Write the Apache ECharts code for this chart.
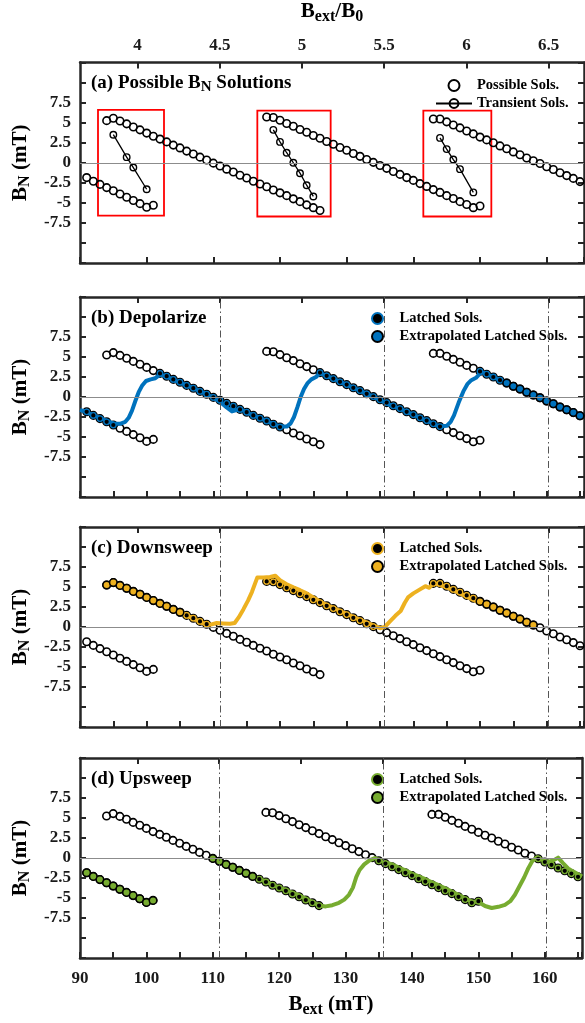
<!DOCTYPE html>
<html>
<head>
<meta charset="utf-8">
<script src="https://cdn.jsdelivr.net/npm/echarts@6/dist/echarts.min.js"></script>
<style>
  html, body { margin: 0; padding: 0; background: #fff; }
  #chart { width: 585px; height: 1023px; }
</style>
</head>
<body>
<div id="chart"></div>
<script>
var FONT = '"Liberation Serif", "Times New Roman", serif';

// B_ext/B_0 scale of the top axis
var B0 = 24.66;
var xMin = 90, xMax = 165.6;
var ratioTicks = [4, 4.5, 5, 5.5, 6, 6.5];
var dashRatios = [4.5, 5.5, 6.5];

// possible B_N solutions, one point per mT from branchStart
var branchStart = [91, 94, 118, 143];
var branch0 = [-1.85, -2.3, -2.7, -3.1, -3.5, -3.9, -4.3, -4.7, -5.1, -5.55, -5.3];
var branch1 = [5.25, 5.55, 5.2, 4.85, 4.45, 4.1, 3.7, 3.3, 2.95, 2.6, 2.2, 1.85, 1.45, 1.1, 0.7, 0.35,
  -0.05, -0.4, -0.8, -1.15, -1.55, -1.9, -2.3, -2.65, -3.0, -3.4, -3.75, -4.1, -4.5, -4.85, -5.25, -5.6, -5.95];
var branch2 = [5.7, 5.65, 5.3, 4.9, 4.55, 4.15, 3.8, 3.4, 3.05, 2.65, 2.3, 1.9, 1.55, 1.15, 0.8, 0.4,
  0.05, -0.35, -0.7, -1.1, -1.45, -1.85, -2.2, -2.6, -2.95, -3.35, -3.7, -4.1, -4.45, -4.85, -5.2, -5.6, -5.4];
var branch3 = [5.45, 5.45, 5.1, 4.7, 4.35, 3.95, 3.6, 3.2, 2.85, 2.5, 2.1, 1.75, 1.35, 1.0, 0.6, 0.25,
  -0.1, -0.5, -0.85, -1.25, -1.6, -1.95, -2.35];
var branches = [branch0, branch1, branch2, branch3];

// transient solutions inside the red boxes
var transient1 = [[95, 3.5], [97, 0.7], [98, -0.6], [100, -3.3]];
var transient2 = [[119, 4.1], [120, 2.6], [121, 1.25], [122, 0], [123, -1.3], [124, -2.8], [125, -4.2]];
var transient3 = [[144, 3.1], [145, 1.7], [146, 0.4], [147, -0.8], [149, -3.7]];

// red boxes [x1, x2, yLow, yHigh]
var boxes = [[92.7, 102.6, -6.6, 6.6], [116.6, 127.6, -6.7, 6.5], [141.5, 151.7, -6.7, 6.5]];

// which possible solutions are latched / extrapolated: [branch, fromX, toX]
var depolLatched = [[0, 91, 95], [1, 102, 120], [2, 126, 144], [3, 150, 153]];
var depolExtrap = [[3, 154, 165]];
var downLatched = [[1, 106, 109], [2, 118, 134], [3, 143, 149]];
var downExtrap = [[1, 94, 105], [3, 150, 158]];
var upLatched = [[1, 117, 126], [2, 135, 150], [3, 159, 165]];
var upExtrap = [[0, 91, 101], [1, 110, 116]];

// simulated B_N trajectories
var depolLine = [[90, -1.6], [91, -1.9], [92, -2.3], [93, -2.6], [94, -3.0], [95, -3.3], [96, -3.35], [96.8, -3.1],
  [97.3, -2.6], [97.8, -1.7], [98.3, -0.5], [98.8, 0.6], [99.3, 1.4], [99.9, 2.0], [100.6, 2.2], [101.3, 2.35],
  [102, 2.8], [103, 2.55], [104, 2.15], [105, 1.8], [106, 1.45], [107, 1.1], [108, 0.7], [109, 0.35], [110, -0.1],
  [111, -0.6], [112, -1.3], [112.8, -1.8], [113.6, -1.6], [114.5, -1.7], [115, -1.95], [116, -2.3], [117, -2.65],
  [118, -3.0], [119, -3.4], [120, -3.7], [121, -3.7], [121.6, -3.3], [122.1, -2.5], [122.6, -1.3], [123.1, 0.0],
  [123.6, 1.0], [124.1, 1.7], [124.7, 2.2], [125.4, 2.5], [126, 3.0], [127, 2.65], [128, 2.3], [129, 1.9],
  [130, 1.55], [131, 1.15], [132, 0.8], [133, 0.4], [134, 0.05], [135, -0.4], [136, -0.8], [137, -1.2],
  [138, -1.45], [139, -1.85], [140, -2.2], [141, -2.6], [142, -2.95], [143, -3.35], [144, -3.7], [145, -3.6],
  [145.6, -3.1], [146.1, -2.3], [146.8, -0.7], [147.5, 0.7], [148.1, 1.6], [148.7, 2.1], [149.4, 2.4],
  [150.2, 3.1], [151, 2.85], [152, 2.5], [153, 2.1], [153.6, 1.9]];
var downLine = [[105.5, 1.7], [106, 1.45], [107, 1.05], [108, 0.65], [109, 0.3], [109.6, 0.3], [110.5, 0.5],
  [111.5, 0.45], [112.5, 0.4], [113.2, 0.5], [113.8, 1.2], [114.5, 2.2], [115.2, 3.3], [115.8, 4.4], [116.6, 6.2],
  [117.5, 6.2], [118.5, 6.25], [119.3, 6.4], [120, 5.85], [121, 5.35], [122, 4.95], [123, 4.6], [124, 4.2],
  [125, 3.7], [126, 3.2], [127, 2.75], [128, 2.4], [129, 2.0], [130, 1.65], [131, 1.25], [132, 0.9], [133, 0.55],
  [134, 0.2], [135, -0.15], [135.7, 0.0], [136.5, 0.7], [137.3, 1.4], [138.1, 2.0], [138.7, 3.0], [139.2, 3.7],
  [140, 4.2], [141, 4.7], [141.8, 5.1], [142.4, 4.9], [143, 5.5], [144, 5.25], [145, 4.95], [146, 4.6],
  [147, 4.2], [148, 3.8], [149, 3.4], [149.5, 3.2]];
var upLine = [[116.5, -2.4], [117, -2.6], [118, -2.95], [119, -3.35], [120, -3.7], [121, -4.0], [122, -4.35],
  [123, -4.65], [124, -5.1], [125, -5.5], [126, -5.95], [127, -6.05], [128, -5.9], [129, -5.6], [129.8, -5.2],
  [130.5, -4.6], [131.1, -3.7], [131.6, -2.4], [132.1, -1.5], [132.8, -0.8], [133.6, -0.3], [134.4, 0.0],
  [135, -0.3], [136, -0.55], [137, -0.8], [138, -1.2], [139, -1.55], [140, -1.95], [141, -2.3], [142, -2.65],
  [143, -3.05], [144, -3.4], [145, -3.8], [146, -4.2], [147, -4.6], [148, -5.05], [149, -5.45], [150, -5.5],
  [151, -6.0], [152, -6.25], [153, -6.1], [154, -5.85], [154.8, -5.4], [155.5, -4.6], [156.2, -3.5],
  [156.9, -2.4], [157.5, -1.3], [158.1, -0.4], [158.8, 0.1], [159.5, -0.2], [160.5, -0.45], [161.3, -0.3],
  [162, 0.05], [162.7, -0.6], [163.5, -1.3], [164.3, -1.7], [165.6, -2.3]];

var panelTitles = ['{b|(a) Possible B}{s|N}{b| Solutions}', '{b|(b) Depolarize}', '{b|(c) Downsweep}', '{b|(d) Upsweep}'];
var panelColors = [null, '#0072BD', '#EDB120', '#77AC30'];
var panelLines = [null, depolLine, downLine, upLine];
var panelLatched = [null, depolLatched, downLatched, upLatched];
var panelExtrap = [null, depolExtrap, downExtrap, upExtrap];

function pick(ranges) {
  var out = [];
  ranges.forEach(function (r) {
    var b = branches[r[0]], s = branchStart[r[0]];
    for (var x = r[1]; x <= r[2]; x++) out.push([x, b[x - s]]);
  });
  return out;
}
var possible = pick([[0, 91, 101], [1, 94, 126], [2, 118, 150], [3, 143, 165]]);

var axisColor = '#262626';
var lineStyleAxis = { color: axisColor, width: 2.5 };
var tickStyle = { color: axisColor, width: 2 };
var labelFont = { color: '#1a1a1a', fontFamily: FONT, fontWeight: 'bold', fontSize: 17 };
var richAxis = {
  b: { fontFamily: FONT, fontWeight: 'bold', fontSize: 21, color: '#000', lineHeight: 26 },
  s: { fontFamily: FONT, fontWeight: 'bold', fontSize: 16, color: '#000', lineHeight: 10, verticalAlign: 'bottom' }
};
var richTitle = {
  b: { fontFamily: FONT, fontWeight: 'bold', fontSize: 19, color: '#000', lineHeight: 24 },
  s: { fontFamily: FONT, fontWeight: 'bold', fontSize: 15, color: '#000', lineHeight: 10, verticalAlign: 'bottom' }
};
var legendText = { fontFamily: FONT, fontWeight: 'bold', fontSize: 14.5, color: '#000', lineHeight: 14 };
function stripName(name) { return name.split(':')[1]; }

var panelTop = [62, 297, 527, 758];
var panelH = [201, 200, 200, 200];
var grids = [], xAxes = [], yAxes = [], series = [], titles = [], legends = [];

panelTop.forEach(function (top, g) {
  var tag = 'abcd'[g] + ':';
  var last = g === 3;
  grids.push({ left: 80, width: 504, top: top, height: panelH[g] });

  xAxes.push({
    type: 'value', gridIndex: g, position: 'bottom', min: xMin, max: xMax, interval: g === 0 ? 10 : 5,
    axisLine: { onZero: false, lineStyle: lineStyleAxis },
    axisTick: { inside: true, length: 6, lineStyle: tickStyle },
    axisLabel: Object.assign({ show: last, margin: 12, formatter: function (v) { return v % 10 === 0 ? v : ''; } }, labelFont),
    splitLine: { show: false },
    name: last ? '{b|B}{s|ext}{b| (mT)}' : '', nameLocation: 'middle', nameGap: 34,
    nameTextStyle: { rich: richAxis }
  });
  xAxes.push({
    type: 'value', gridIndex: g, position: 'top', min: xMin / B0, max: xMax / B0,
    axisLine: { onZero: false, lineStyle: lineStyleAxis },
    axisTick: { inside: true, length: 6, lineStyle: tickStyle, customValues: ratioTicks },
    axisLabel: Object.assign({ show: g === 0, margin: 8, customValues: ratioTicks }, labelFont),
    splitLine: { show: false },
    name: g === 0 ? '{b|B}{s|ext}{b|/B}{s|0}' : '', nameLocation: 'middle', nameGap: 38,
    nameTextStyle: { rich: richAxis }
  });
  yAxes.push({
    type: 'value', gridIndex: g, position: 'left', min: -12.5, max: 12.5, interval: 2.5,
    axisLine: { onZero: false, lineStyle: lineStyleAxis },
    axisTick: { inside: true, length: 6, lineStyle: tickStyle },
    axisLabel: Object.assign({ margin: 9, formatter: function (v) { return Math.abs(v) <= 7.5 ? v : ''; } }, labelFont),
    splitLine: { show: false },
    name: '{b|B}{s|N}{b| (mT)}', nameLocation: 'middle', nameGap: 46, nameRotate: 90,
    nameTextStyle: { rich: richAxis }
  });
  yAxes.push({
    type: 'value', gridIndex: g, position: 'right', min: -12.5, max: 12.5, interval: 2.5,
    axisLine: { onZero: false, lineStyle: lineStyleAxis },
    axisTick: { inside: true, length: 6, lineStyle: tickStyle },
    axisLabel: { show: false }, splitLine: { show: false }
  });

  titles.push({ left: 91, top: top + 9, padding: 0, text: panelTitles[g], textStyle: { rich: richTitle } });

  var xi = 2 * g, yi = 2 * g;
  var refLines = [{ yAxis: 0, lineStyle: { color: '#8c8c8c', width: 1.2, type: 'solid' } }];
  if (g > 0) {
    dashRatios.forEach(function (r) {
      refLines.push({ xAxis: r * B0, lineStyle: { color: '#555', width: 1, type: [7, 3, 1.5, 3] } });
    });
  }
  var possibleSeries = {
    name: tag + 'Possible Sols.', type: 'scatter', xAxisIndex: xi, yAxisIndex: yi, data: possible,
    symbol: 'circle', symbolSize: 7.5, z: 2,
    itemStyle: { color: 'rgba(255,255,255,0)', borderColor: '#000', borderWidth: 1.6, opacity: 1 },
    markLine: { silent: true, symbol: ['none', 'none'], label: { show: false }, data: refLines, animation: false }
  };
  if (g === 0) {
    possibleSeries.markArea = {
      silent: true,
      itemStyle: { color: 'rgba(0,0,0,0)', borderColor: '#ff0000', borderWidth: 1.8 },
      data: boxes.map(function (b) { return [{ coord: [b[0], b[3]] }, { coord: [b[1], b[2]] }]; })
    };
  }
  series.push(possibleSeries);

  if (g === 0) {
    [transient1, transient2, transient3].forEach(function (t) {
      series.push({
        name: tag + 'Transient Sols.', type: 'line', xAxisIndex: xi, yAxisIndex: yi, data: t,
        symbol: 'circle', symbolSize: 6.5, showSymbol: true, z: 3,
        lineStyle: { color: '#000', width: 1.3 },
        itemStyle: { color: 'rgba(255,255,255,0)', borderColor: '#000', borderWidth: 1.4 }
      });
    });
    legends.push({
      left: 435, top: top + 16, padding: 0, orient: 'vertical', itemWidth: 36, itemHeight: 11, itemGap: 3,
      selectedMode: false, formatter: stripName, textStyle: legendText,
      data: [tag + 'Possible Sols.', tag + 'Transient Sols.']
    });
  } else {
    var c = panelColors[g];
    series.push({
      name: tag + 'Trajectory', type: 'line', xAxisIndex: xi, yAxisIndex: yi, data: panelLines[g],
      showSymbol: false, smooth: false, z: 3,
      lineStyle: { color: c, width: 4, join: 'round' }, itemStyle: { color: c }
    });
    series.push({
      name: tag + 'Latched Sols.', type: 'scatter', xAxisIndex: xi, yAxisIndex: yi, data: pick(panelLatched[g]),
      symbol: 'circle', symbolSize: 5.5, z: 4,
      itemStyle: { color: '#000', borderColor: c, borderWidth: 1.3, opacity: 1 }
    });
    series.push({
      name: tag + 'Extrapolated Latched Sols.', type: 'scatter', xAxisIndex: xi, yAxisIndex: yi, data: pick(panelExtrap[g]),
      symbol: 'circle', symbolSize: 7.5, z: 4,
      itemStyle: { color: c, borderColor: '#000', borderWidth: 1.5, opacity: 1 }
    });
    legends.push({
      left: 371, top: top + 14, padding: 0, orient: 'vertical', itemWidth: 34, itemHeight: 11, itemGap: 3,
      selectedMode: false, formatter: stripName, textStyle: legendText,
      data: [tag + 'Latched Sols.', tag + 'Extrapolated Latched Sols.']
    });
  }
});

var chart = echarts.init(document.getElementById('chart'));
chart.setOption({
  animation: false,
  backgroundColor: '#fff',
  title: titles,
  legend: legends,
  grid: grids,
  xAxis: xAxes,
  yAxis: yAxes,
  series: series
});
</script>
</body>
</html>
